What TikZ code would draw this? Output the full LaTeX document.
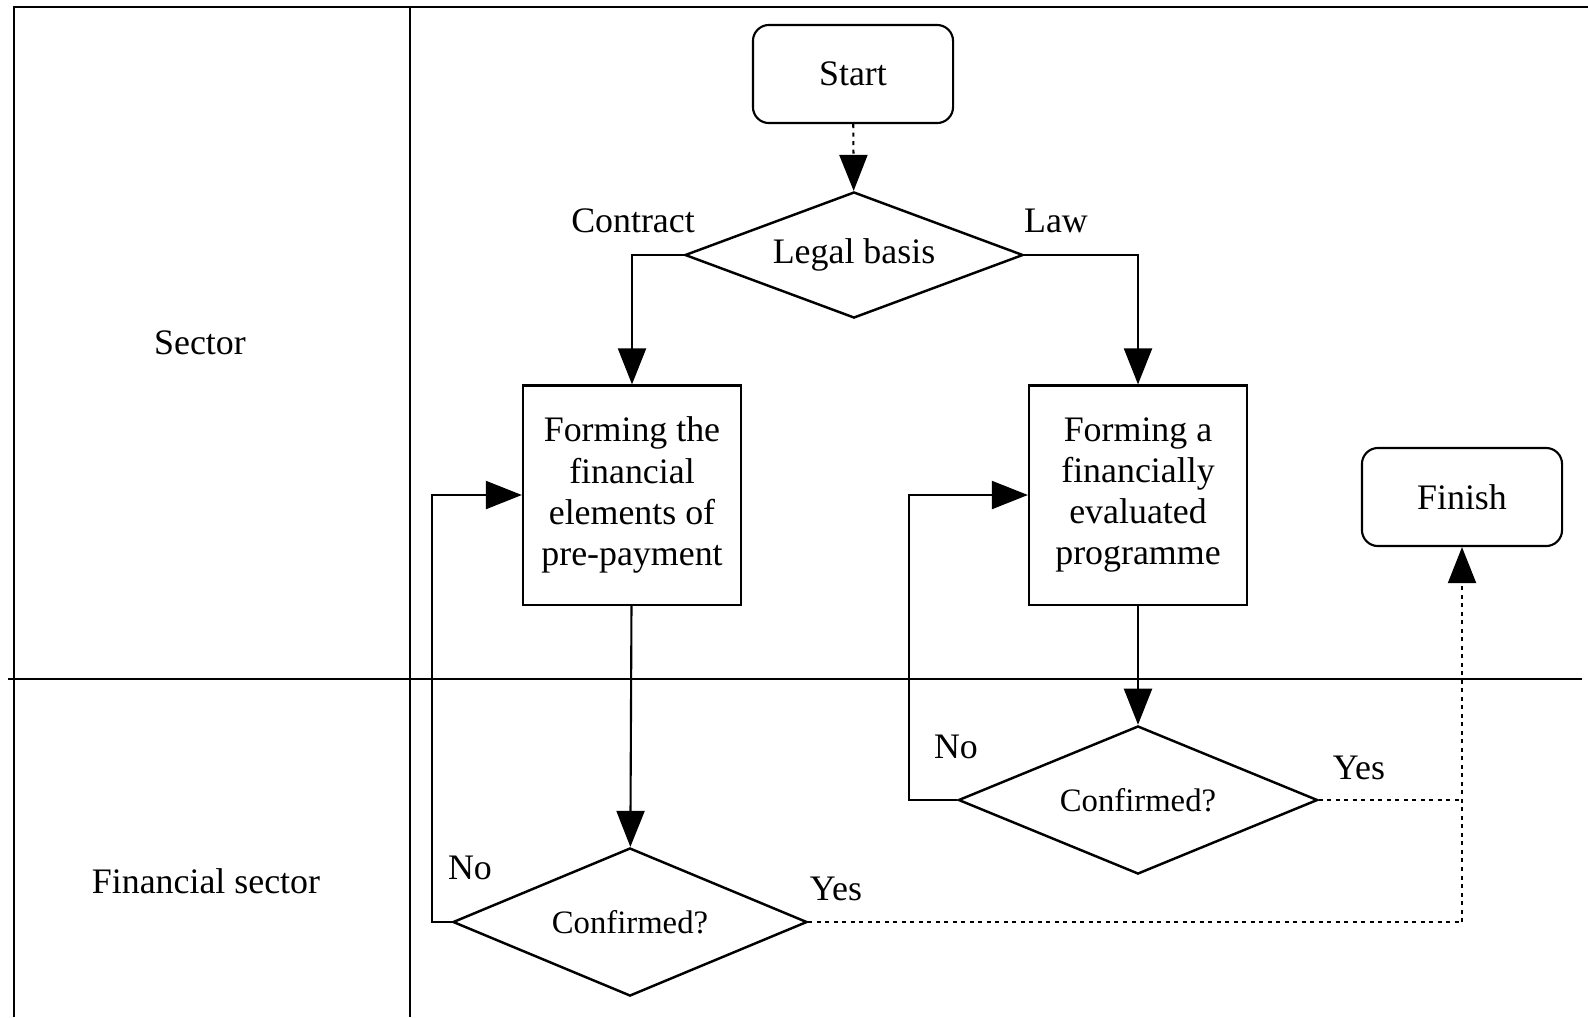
\documentclass[tikz,border=0pt]{standalone}
\usepackage{fontspec}
\setmainfont{Liberation Serif}
\usetikzlibrary{shapes.geometric,arrows.meta}

\begin{document}
\begin{tikzpicture}[x=0.01cm,y=-0.01cm,
  every node/.style={font=\fontsize{10.2}{11.7}\selectfont},
  lane/.style={line width=0.6pt},
  term/.style={draw,line width=0.6pt,rounded corners=0.16cm,minimum width=2cm,minimum height=0.98cm},
  act/.style={draw,line width=0.6pt,align=center,minimum width=2.18cm,minimum height=2.19cm,inner sep=0pt},
  dec/.style={draw,diamond,line width=0.7pt,inner sep=0pt},
  arr/.style={line width=0.6pt,-{Triangle[length=0.36cm,width=0.28cm]}},
  dotline/.style={line width=0.6pt,dash pattern=on 0.04cm off 0.045cm}]
  \useasboundingbox (0,0) rectangle (1588,1017);
  % swimlanes
  \draw[lane] (14,1017) -- (14,7) -- (1588,7);
  \draw[lane] (410,7) -- (410,1017);
  \draw[lane] (8,679) -- (1582,679);
  \node (sector) at (200,343) {Sector};
  \node (finsector) at (206,881) {Financial sector};

  \node[term] (start) at (853,74) {Start};
  \node[dec,aspect=2.68,minimum width=3.38cm,minimum height=1.26cm] (legal) at (854,255) {Legal basis};
  \node[act] (prepay) at (632,495) {Forming the\\financial\\elements of\\pre-payment};
  \node[act] (progr) at (1138,495) {Forming a\\financially\\evaluated\\programme};
  \node[term] (finish) at (1462,497) {Finish};
  \node[dec,aspect=2.4,minimum width=3.54cm,minimum height=1.48cm,font=\fontsize{9.3}{11}\selectfont] (conf1) at (630,922) {Confirmed?};
  \node[dec,aspect=2.4,minimum width=3.59cm,minimum height=1.48cm,font=\fontsize{9.3}{11}\selectfont] (conf2) at (1138,800) {Confirmed?};

  \draw[arr,dotline] (start) -- (legal);
  \draw[arr] (legal.west) -| (prepay.north);
  \draw[arr] (legal.east) -| (progr.north);
  \node (contract) at (633,221) {Contract};
  \node (law) at (1056,221) {Law};

  \draw[arr] (prepay) -- (conf1);
  \draw[arr] (progr) -- (conf2);
  \draw[arr] (conf1.west) -- ++(-20,0) |- (prepay.west);
  \draw[arr] (conf2.west) -- ++(-48,0) |- (progr.west);
  \node (no1) at (470,868) {No};
  \node (no2) at (956,747) {No};

  \coordinate (y1) at (conf1.east -| finish);
  \coordinate (y2) at (conf2.east -| finish);
  \draw[dotline] (conf1.east) -- (y1);
  \draw[dotline] (conf2.east) -- (y2);
  \draw[arr,dotline] (y1) -- (finish.south);
  \node (yes1) at (836,889) {Yes};
  \node (yes2) at (1359,768) {Yes};
\end{tikzpicture}
\end{document}
